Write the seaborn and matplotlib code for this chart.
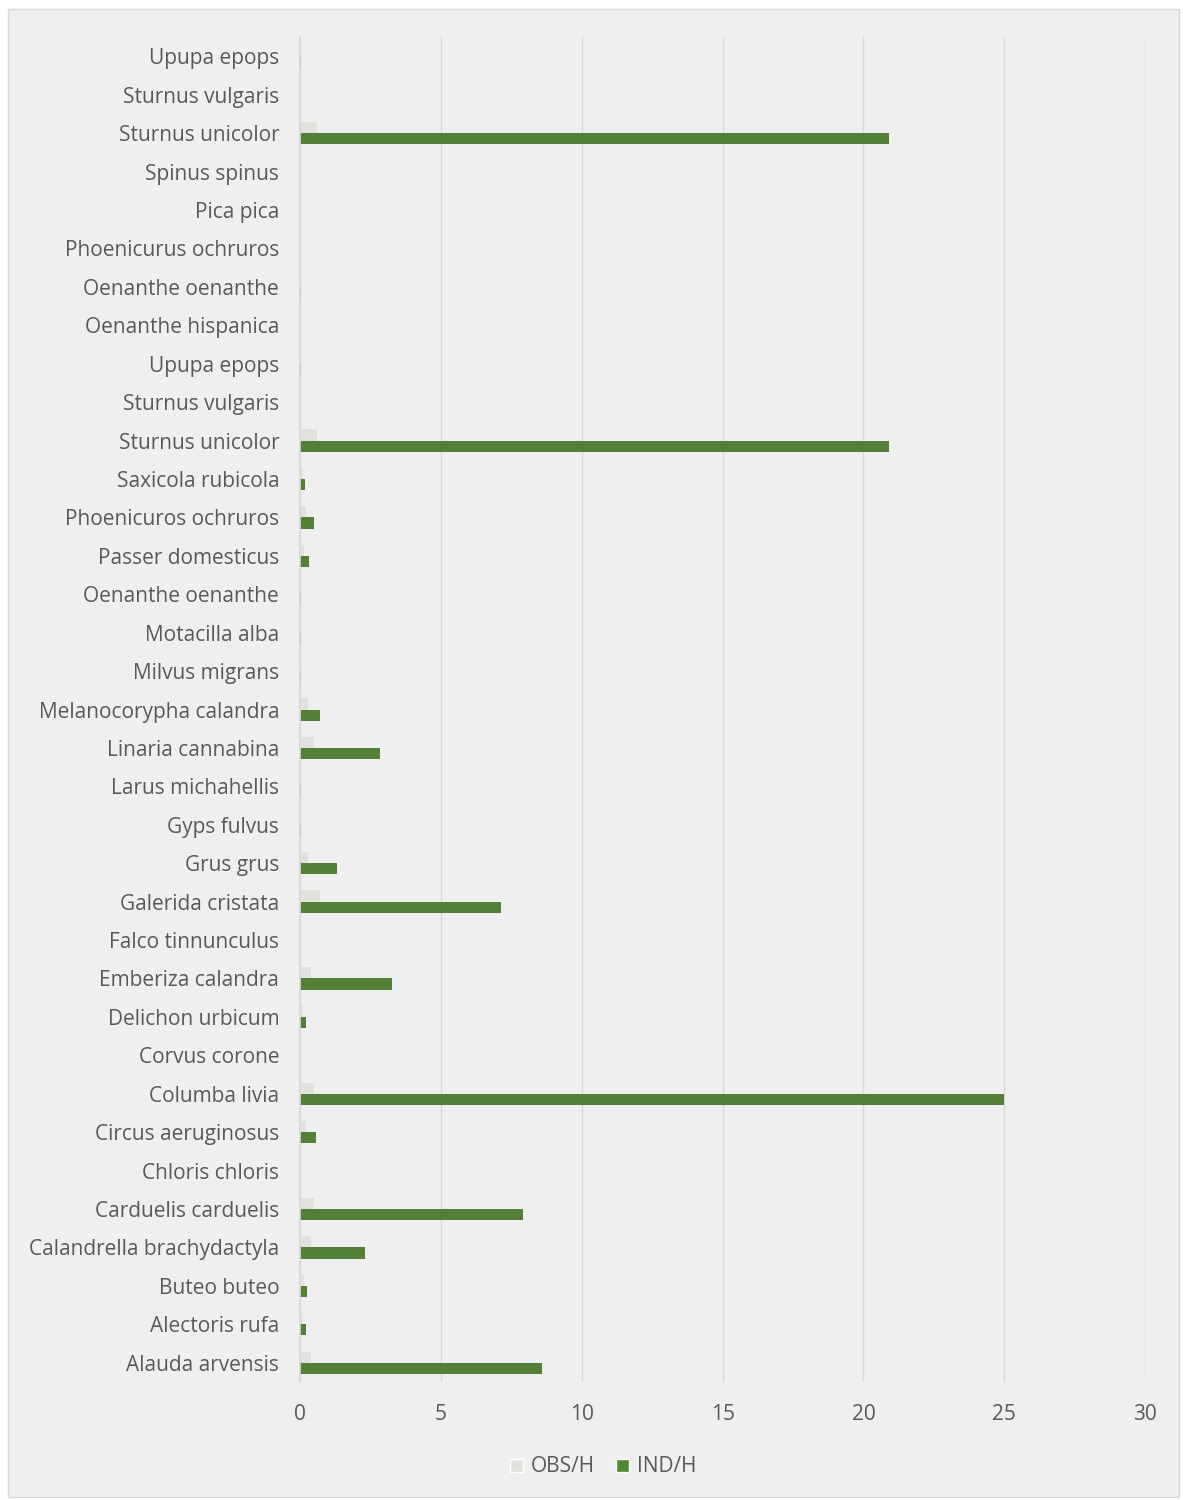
import matplotlib
matplotlib.use("Agg")
import matplotlib.pyplot as plt
from matplotlib.patches import Rectangle
import seaborn as sns
import pandas as pd

# Species, listed top to bottom as they appear on the axis
species = [
    "Upupa epops", "Sturnus vulgaris", "Sturnus unicolor", "Spinus spinus",
    "Pica pica", "Phoenicurus ochruros", "Oenanthe oenanthe", "Oenanthe hispanica",
    "Upupa epops", "Sturnus vulgaris", "Sturnus unicolor", "Saxicola rubicola",
    "Phoenicuros ochruros", "Passer domesticus", "Oenanthe oenanthe", "Motacilla alba",
    "Milvus migrans", "Melanocorypha calandra", "Linaria cannabina", "Larus michahellis",
    "Gyps fulvus", "Grus grus", "Galerida cristata", "Falco tinnunculus",
    "Emberiza calandra", "Delichon urbicum", "Corvus corone", "Columba livia",
    "Circus aeruginosus", "Chloris chloris", "Carduelis carduelis",
    "Calandrella brachydactyla", "Buteo buteo", "Alectoris rufa", "Alauda arvensis",
]

# Observations per hour
obs_h = [
    0.05, 0.0, 0.6, 0.0,
    0.0, 0.0, 0.05, 0.0,
    0.05, 0.0, 0.6, 0.1,
    0.2, 0.15, 0.05, 0.05,
    0.05, 0.3, 0.5, 0.05,
    0.05, 0.3, 0.7, 0.0,
    0.4, 0.1, 0.0, 0.5,
    0.2, 0.0, 0.5,
    0.4, 0.15, 0.1, 0.4,
]

# Individuals per hour
ind_h = [
    0.05, 0.0, 20.9, 0.0,
    0.0, 0.0, 0.05, 0.0,
    0.05, 0.0, 20.9, 0.18,
    0.5, 0.33, 0.05, 0.05,
    0.05, 0.7, 2.85, 0.05,
    0.05, 1.3, 7.15, 0.0,
    3.25, 0.2, 0.0, 25.0,
    0.55, 0.0, 7.9,
    2.3, 0.25, 0.2, 8.6,
]

series = ["OBS/H", "IND/H"]
colors = {"OBS/H": "#e2e2dc", "IND/H": "#508a2e"}

rows = [str(i) for i in range(len(species))]
df = pd.DataFrame({
    "row": rows * 2,
    "value": obs_h + ind_h,
    "series": [series[0]] * len(rows) + [series[1]] * len(rows),
})

sns.set_theme(style="white")
plt.rcParams["font.family"] = ["Open Sans", "DejaVu Sans"]

bg = "#efefef"
fig = plt.figure(figsize=(11.83, 15.0), dpi=100, facecolor="white")
panel = Rectangle((0.007, 0.002), 0.990, 0.992, transform=fig.transFigure,
                  facecolor=bg, edgecolor="#d9d9d9", linewidth=1.0, zorder=-10)
fig.patches.append(panel)
ax = fig.add_axes([0.2536, 0.0787, 0.7144, 0.8966])
ax.set_zorder(1)
ax.set_facecolor(bg)

sns.barplot(data=df, y="row", x="value", hue="series", hue_order=series,
            order=rows, orient="h", palette=colors, width=0.58, dodge=True,
            gap=0, linewidth=0, legend=False, ax=ax)

ax.set_xlim(0, 30)
ax.set_xticks(range(0, 31, 5))
ax.set_yticks(range(len(species)))
ax.set_yticklabels(species)
ax.set_xlabel("")
ax.set_ylabel("")
ax.tick_params(axis="both", length=0, labelsize=15, labelcolor="#595959")
ax.tick_params(axis="x", pad=16)
ax.tick_params(axis="y", pad=15)

ax.grid(axis="x", color="#d9d9d9", linewidth=1.0)
ax.set_axisbelow(True)
for side in ["top", "right", "bottom"]:
    ax.spines[side].set_visible(False)
ax.spines["left"].set_color("#d9d9d9")

handles = [Rectangle((0, 0), 1, 1, facecolor=colors[s]) for s in series]
leg = fig.legend(handles, series, loc="center", bbox_to_anchor=(0.51, 0.022), ncol=2,
                 frameon=False, fontsize=15, labelcolor="#595959", handlelength=0.6,
                 handleheight=0.6, columnspacing=1.0, handletextpad=0.4)
leg.set_zorder(2)

fig.savefig("out.png", dpi=100, facecolor="white")
